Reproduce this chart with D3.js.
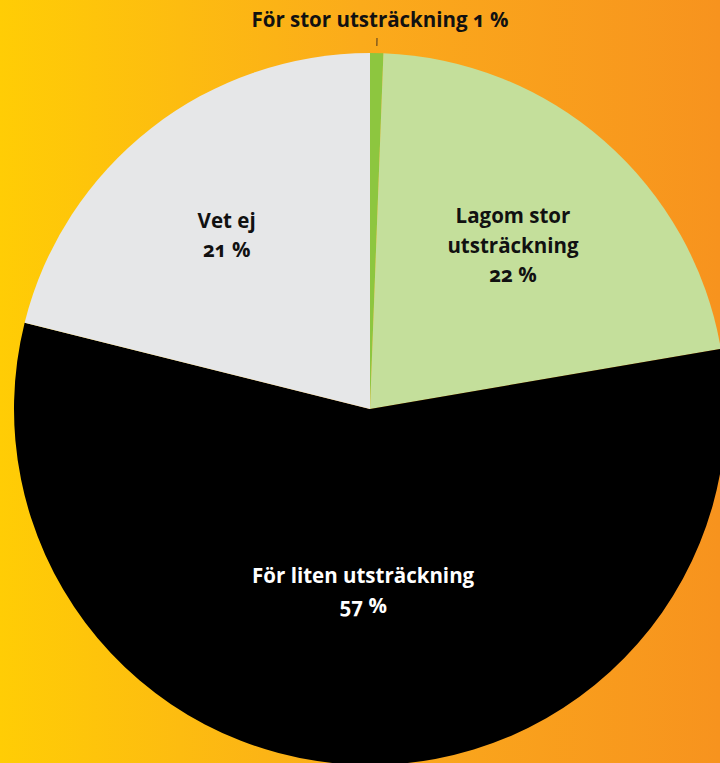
<!DOCTYPE html>
<html>
<head>
<meta charset="utf-8">
<script src="https://cdn.jsdelivr.net/npm/d3@7"></script>
<style>
  html, body { margin: 0; padding: 0; }
  svg { display: block; }
  .lbl { font-family: "Open Sans", sans-serif; font-weight: 700; font-size: 20.5px; font-feature-settings: "onum" 1; }
</style>
</head>
<body>
<svg width="720" height="763"></svg>
<script>
var categories = ["För stor utsträckning", "Lagom stor utsträckning", "För liten utsträckning", "Vet ej"];
var values = [0.6, 21.7, 56.6, 21.1];
var percentLabels = ["1 %", "22 %", "57 %", "21 %"];
var labelLines = [["För stor utsträckning 1 %"], ["Lagom stor", "utsträckning", "22 %"], ["För liten utsträckning", "57 %"], ["Vet ej", "21 %"]];
var colors = ["#8dc63f", "#c4df9b", "#000000", "#e6e7e8"];

var svg = d3.select("svg");
var width = +svg.attr("width"), height = +svg.attr("height");
var cx = 370, cy = 409, radius = 356;

// background gradient
var defs = svg.append("defs");
var grad = defs.append("linearGradient").attr("id", "bg").attr("x1", "0%").attr("x2", "100%").attr("y1", "0%").attr("y2", "0%");
grad.append("stop").attr("offset", "0%").attr("stop-color", "#ffcd05");
grad.append("stop").attr("offset", "50%").attr("stop-color", "#fbab1b");
grad.append("stop").attr("offset", "100%").attr("stop-color", "#f7931e");
svg.append("rect").attr("width", width).attr("height", height).attr("fill", "url(#bg)");

var data = categories.map(function(c, i) { return {cat: c, value: values[i], i: i}; });

var pie = d3.pie().sort(null).value(function(d) { return d.value; });
var arc = d3.arc().innerRadius(0).outerRadius(radius);

var g = svg.append("g").attr("transform", "translate(" + cx + "," + cy + ")");
var arcs = pie(data);

g.selectAll(".slice")
    .data(arcs)
  .enter().append("path")
    .attr("class", "slice")
    .attr("d", arc)
    .attr("fill", function(d) { return colors[d.data.i]; });

// inside labels
var labelRadius = [0, 217, 182, 220];
var labelDx = [0, 0, 0, -8];
arcs.forEach(function(d) {
  var i = d.data.i;
  if (i === 0) return;
  var a = (d.startAngle + d.endAngle) / 2;
  var x = Math.sin(a) * labelRadius[i] + labelDx[i], y = -Math.cos(a) * labelRadius[i];
  var lines = labelLines[i];
  var lh = 29.5;
  var y0 = y - (lines.length - 1) * lh / 2 + 7;
  var t = g.append("text").attr("class", "lbl").attr("text-anchor", "middle")
      .attr("fill", i === 2 ? "#ffffff" : "#111111");
  lines.forEach(function(s, k) {
    t.append("tspan").attr("x", x).attr("y", y0 + k * lh).text(s);
  });
});

// outside label for the small slice
var small = arcs[0];
var am = (small.startAngle + small.endAngle) / 2;
g.append("line")
    .attr("x1", Math.sin(am) * 363).attr("y1", -Math.cos(am) * 363)
    .attr("x2", Math.sin(am) * 371).attr("y2", -Math.cos(am) * 371)
    .attr("stroke", "#6b4a1e").attr("stroke-width", 1.2);
g.append("text").attr("class", "lbl").attr("text-anchor", "middle")
    .attr("x", 10).attr("y", 27 - cy)
    .attr("fill", "#111111")
    .text(labelLines[0][0]);
</script>
</body>
</html>
